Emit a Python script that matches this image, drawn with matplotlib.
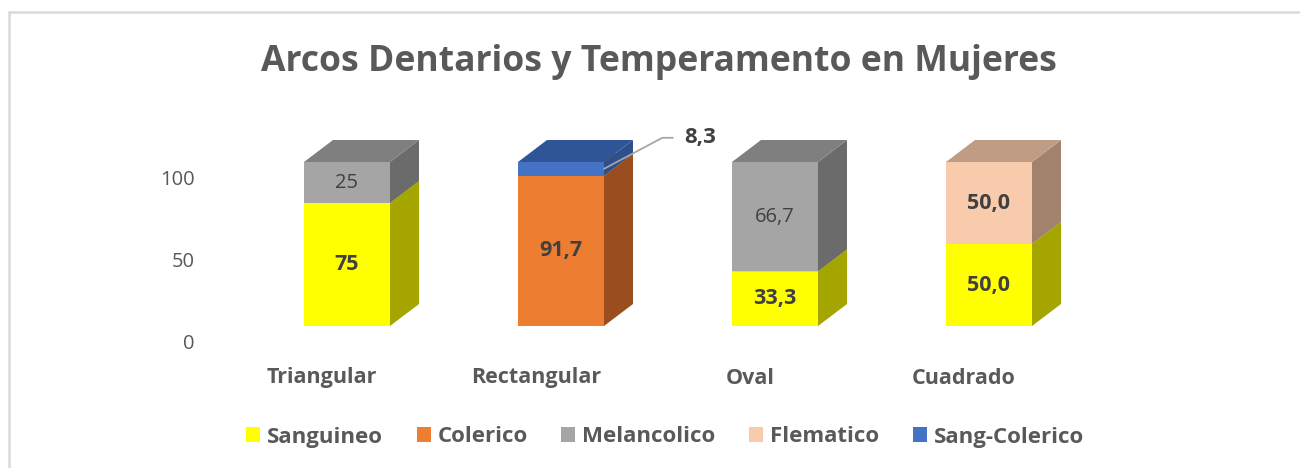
import matplotlib
matplotlib.use("Agg")
import matplotlib.pyplot as plt
from matplotlib.patches import Polygon, Patch, Rectangle
from matplotlib.transforms import offset_copy, blended_transform_factory

plt.rcParams['font.family'] = ['Open Sans', 'DejaVu Sans']

# ---------------- data ----------------
categories = ["Triangular", "Rectangular", "Oval", "Cuadrado"]
series = ["Sanguineo", "Colerico", "Melancolico", "Flematico", "Sang-Colerico"]
sanguineo = [75, 0, 33.3, 50.0]
colerico = [0, 91.7, 0, 0]
melancolico = [25, 0, 66.7, 0]
flematico = [0, 0, 0, 50.0]
sang_colerico = [0, 8.3, 0, 0]
label_text = {
    "Sanguineo": ["75", "", "33,3", "50,0"],
    "Colerico": ["", "91,7", "", ""],
    "Melancolico": ["25", "", "66,7", ""],
    "Flematico": ["", "", "", "50,0"],
    "Sang-Colerico": ["", "8,3", "", ""],
}
yticks = [0, 50, 100]
title = "Arcos Dentarios y Temperamento en Mujeres"

values = [sanguineo, colerico, melancolico, flematico, sang_colerico]

# ---------------- style ----------------
front = {"Sanguineo": "#FFFF00", "Colerico": "#ED7D31", "Melancolico": "#A5A5A5",
         "Flematico": "#F8CBAD", "Sang-Colerico": "#4472C4"}
side = {"Sanguineo": "#A5A500", "Colerico": "#9A4D1E", "Melancolico": "#6B6B6B",
        "Flematico": "#A3826D", "Sang-Colerico": "#2D4F8B"}
top = {"Sanguineo": "#C8C800", "Colerico": "#B85F25", "Melancolico": "#7F7F7F",
       "Flematico": "#C19C85", "Sang-Colerico": "#2F5597"}
bold = {"Sanguineo": True, "Colerico": True, "Melancolico": False,
        "Flematico": True, "Sang-Colerico": True}
txt_color = "#404040"
axis_txt = "#595959"

W, H = 1300, 468
fig = plt.figure(figsize=(W / 100, H / 100), dpi=100)
fig.patch.set_facecolor("white")

# border of chart area (right and bottom edges lie outside the image)
fig.patches.append(Rectangle((9 / W, -0.2), 1.2, (H - 12) / H + 0.2, transform=fig.transFigure,
                             fill=False, edgecolor="#D9D9D9", linewidth=1.8))

# axes mapping: bar 0 center at x=347px, spacing 214 px; y=0 at 326px from top, 1.64 px/unit
ppx = 214.0
ppy = 1.64
x0_px, y0_px = 347.0, 326.0
ax = fig.add_axes([0, 0, 1, 1])
ax.set_xlim(-x0_px / ppx, (W - x0_px) / ppx)
ax.set_ylim(-(H - y0_px) / ppy, y0_px / ppy)
ax.axis("off")

bw = 86 / ppx
ddx = 29 / ppx
ddy = 22 / ppy

for i, cat in enumerate(categories):
    base = 0.0
    for s, vals in zip(series, values):
        v = vals[i]
        if v <= 0:
            continue
        xl, xr = i - bw / 2, i + bw / 2
        yb, yt = base, base + v
        ax.add_patch(Polygon([(xl, yb), (xr, yb), (xr, yt), (xl, yt)], closed=True,
                             facecolor=front[s], edgecolor="none"))
        ax.add_patch(Polygon([(xr, yb), (xr + ddx, yb + ddy), (xr + ddx, yt + ddy), (xr, yt)],
                             closed=True, facecolor=side[s], edgecolor="none"))
        ax.add_patch(Polygon([(xl, yt), (xr, yt), (xr + ddx, yt + ddy), (xl + ddx, yt + ddy)],
                             closed=True, facecolor=top[s], edgecolor="none"))
        lab = label_text[s][i]
        if lab:
            if s == "Sang-Colerico":
                ax.annotate(lab, xy=(xr, base + v / 2), xycoords="data",
                            xytext=(80, 31), textcoords="offset pixels",
                            ha="left", va="center", fontsize=16, fontweight="bold",
                            color=txt_color,
                            arrowprops=dict(arrowstyle="-", color="#A6A6A6", lw=1.3,
                                            shrinkA=6, shrinkB=0,
                                            connectionstyle="angle,angleA=0,angleB=28,rad=0"))
            else:
                ax.text(i, base + v / 2, lab, ha="center", va="center",
                        fontsize=15.5 if bold[s] else 14.5,
                        fontweight="bold" if bold[s] else "normal",
                        color=txt_color)
        base += v

# y tick labels (on back wall, shifted down)
tick_tr = offset_copy(blended_transform_factory(fig.transFigure, ax.transData),
                      fig=fig, x=0, y=-18, units="dots")
for t in yticks:
    ax.text(195 / W, t, f"{t}", transform=tick_tr, ha="right", va="center",
            fontsize=14.5, color=axis_txt)

# category labels
cat_tr = offset_copy(ax.transData, fig=fig, x=-25, y=-52, units="dots")
for i, cat in enumerate(categories):
    ax.text(i, 0, cat, transform=cat_tr, ha="center", va="center",
            fontsize=15.5, fontweight="bold", color=axis_txt)

# title
fig.text(659 / W, 1 - 62 / H, title, ha="center", va="center", fontsize=25.6,
         fontweight="bold", color=axis_txt)

# legend
handles = [Patch(facecolor=front[s], edgecolor="none", label=s) for s in series]
leg = fig.legend(handles=handles, loc="center", bbox_to_anchor=(665 / W, 1 - 437 / H),
                 ncol=5, frameon=False, fontsize=16, handlelength=0.63, handleheight=0.63,
                 handletextpad=0.32, columnspacing=1.5)
for t in leg.get_texts():
    t.set_color(axis_txt)
    t.set_fontweight("bold")

fig.savefig("out.png", dpi=100, facecolor="white")
